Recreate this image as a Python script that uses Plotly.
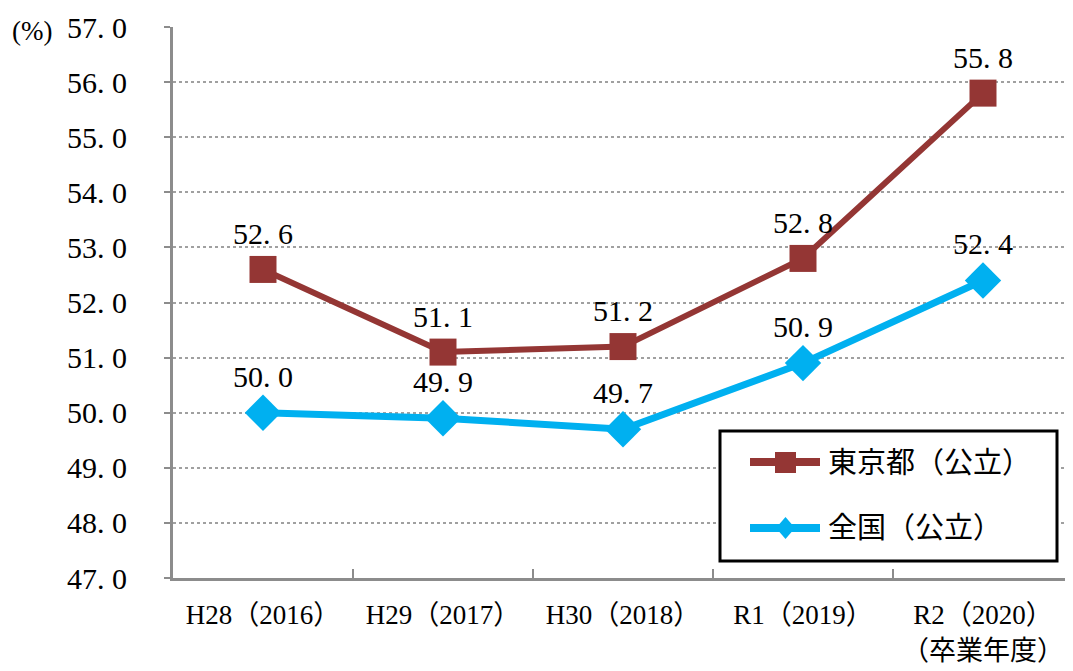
import plotly.graph_objects as go

categories = ["H28（2016）", "H29（2017）", "H30（2018）", "R1（2019）", "R2（2020）<br>（卒業年度）"]
tokyo_name = "東京都（公立）"
tokyo_values = [52.6, 51.1, 51.2, 52.8, 55.8]
national_name = "全国（公立）"
national_values = [50.0, 49.9, 49.7, 50.9, 52.4]
y_ticks = [47.0, 48.0, 49.0, 50.0, 51.0, 52.0, 53.0, 54.0, 55.0, 56.0, 57.0]
y_unit = "(%)"

FONT = "Liberation Serif, Noto Sans CJK JP"
RED = "#943634"
BLUE = "#00B0F0"

def fmt(v):
    return f"{v:.1f}".replace(".", ". ")

fig = go.Figure()
fig.add_trace(go.Scatter(
    x=categories, y=tokyo_values, name=tokyo_name, mode="lines+markers+text",
    line=dict(color=RED, width=6),
    marker=dict(symbol="square", size=27, color=RED),
    text=[fmt(v) for v in tokyo_values], textposition="top center",
    textfont=dict(size=30, color="black", family=FONT),
))
fig.add_trace(go.Scatter(
    x=categories, y=national_values, name=national_name, mode="lines+markers+text",
    line=dict(color=BLUE, width=7),
    marker=dict(symbol="diamond", size=28, color=BLUE),
    text=[fmt(v) for v in national_values], textposition="top center",
    textfont=dict(size=30, color="black", family=FONT),
))

# custom legend (paper coordinates of the plot area)
def px(x):
    return (x - 173) / 900

def py(y):
    return (578 - y) / 551

shapes = [
    dict(type="rect", xref="paper", yref="paper", x0=px(720), x1=px(1057), y0=py(561), y1=py(431),
         line=dict(color="black", width=3), fillcolor="white", layer="above"),
    dict(type="line", xref="paper", yref="paper", x0=px(750), x1=px(820), y0=py(462), y1=py(462),
         line=dict(color=RED, width=8), layer="above"),
    dict(type="rect", xref="paper", yref="paper", x0=px(775), x1=px(796), y0=py(473), y1=py(452),
         line=dict(width=0), fillcolor=RED, layer="above"),
    dict(type="line", xref="paper", yref="paper", x0=px(750), x1=px(820), y0=py(528), y1=py(528),
         line=dict(color=BLUE, width=8), layer="above"),
    dict(type="path", xref="paper", yref="paper",
         path=f"M {px(776)},{py(528)} L {px(785.5)},{py(517)} L {px(795)},{py(528)} L {px(785.5)},{py(539)} Z",
         line=dict(width=0), fillcolor=BLUE, layer="above"),
]

annotations = [
    dict(text=y_unit, xref="paper", yref="paper", x=px(10), y=1.0,
         xanchor="left", yanchor="middle", showarrow=False, yshift=-4,
         font=dict(size=27, family=FONT)),
    dict(text=tokyo_name, xref="paper", yref="paper", x=px(826), y=py(463),
         xanchor="left", yanchor="middle", showarrow=False,
         font=dict(size=29, family=FONT, color="black")),
    dict(text=national_name, xref="paper", yref="paper", x=px(826), y=py(528),
         xanchor="left", yanchor="middle", showarrow=False,
         font=dict(size=29, family=FONT, color="black")),
]

fig.update_layout(
    width=1073, height=671,
    margin=dict(l=165, r=8, t=19, b=101),
    plot_bgcolor="white", paper_bgcolor="white",
    font=dict(family=FONT, color="black"),
    showlegend=False,
    shapes=shapes,
    annotations=annotations,
    xaxis=dict(
        type="category", range=[-0.5, 4.5], automargin=False,
        showline=True, linecolor="#8c8c8c", linewidth=3,
        ticks="inside", tickson="boundaries", ticklen=9, tickwidth=2, tickcolor="#8c8c8c",
        showgrid=False, tickfont=dict(size=27, family=FONT), ticklabelstandoff=11,
    ),
    yaxis=dict(
        range=[47, 57], tickvals=y_ticks, ticktext=[fmt(v) for v in y_ticks], automargin=False,
        showline=True, linecolor="#8c8c8c", linewidth=3,
        ticks="outside", ticklen=6, tickwidth=2, tickcolor="#8c8c8c",
        showgrid=True, gridcolor="#a0a0a0", gridwidth=1.5, griddash="dot",
        tickfont=dict(size=30, family=FONT), ticklabelstandoff=31,
        zeroline=False,
    ),
)

fig.write_html("out.html")
